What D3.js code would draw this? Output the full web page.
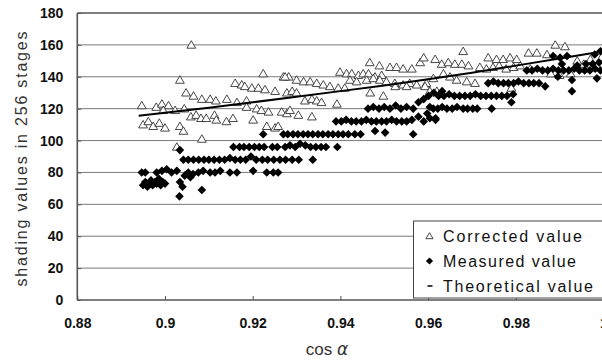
<!DOCTYPE html>
<html><head><meta charset="utf-8">
<script src="https://cdn.jsdelivr.net/npm/d3@7"></script>
<style>body{margin:0;background:#fff}svg{display:block}</style>
</head><body><svg id="c" width="602" height="361"></svg>
<script>
const xTicks = [0.88, 0.9, 0.92, 0.94, 0.96, 0.98, 1.0];
const xTickLabels = ["0.88", "0.9", "0.92", "0.94", "0.96", "0.98", "1"];
const yTicks = [0, 20, 40, 60, 80, 100, 120, 140, 160, 180];
const legendLabels = ["Corrected value", "Measured value", "Theoretical value"];

// Corrected value (open triangles): [cos α, shading]
const correctedPoints = [
[0.8947,122],[0.8980,121],[0.8993,123],[0.9008,122],[0.8996,119],[0.9023,119],
[0.8950,110],[0.8962,112],[0.8973,109],[0.8987,111],[0.9000,108],[0.9034,109],[0.9042,106],[0.9084,101],[0.9027,96],
[0.9034,138],[0.9060,160],[0.9224,142],[0.9270,140],[0.9282,140],
[0.9048,130],[0.9065,128],[0.9084,126],[0.9103,126],[0.9116,125],[0.9141,126],[0.9164,124],[0.9186,125],
[0.9044,120],[0.9059,115],[0.9071,116],[0.9082,114],[0.9094,114],[0.9113,116],[0.9117,113],[0.9140,112],[0.9155,114],[0.9201,113],
[0.9232,109],[0.9251,108],[0.9258,109],
[0.9160,136],[0.9175,135],[0.9182,134],[0.9198,133],[0.9213,133],[0.9228,132],[0.9251,131],
[0.9186,121],[0.9209,120],[0.9220,119],[0.9236,118],[0.9266,118],[0.9278,117],
[0.9274,140],[0.9300,138],[0.9316,137],[0.9331,137],[0.9346,136],[0.9361,135],[0.9376,134],[0.9395,133],[0.9410,133],
[0.9399,143],[0.9414,142],[0.9426,142],[0.9441,141],[0.9452,142],[0.9464,142],[0.9479,140],[0.9494,141],
[0.9467,149],[0.9489,147],
[0.9513,146],[0.9528,146],[0.9543,145],[0.9563,145],[0.9582,149],[0.9590,152],[0.9616,151],
[0.9422,138],[0.9437,137],[0.9460,138],[0.9475,139],[0.9490,138],[0.9505,137],[0.9524,136],[0.9543,135],[0.9558,136],[0.9574,135],[0.9596,136],[0.9612,139],
[0.9278,130],[0.9290,131],[0.9300,130],
[0.9319,125],[0.9335,126],[0.9346,125],[0.9357,124],[0.9392,123],
[0.9468,130],[0.9498,128],[0.9525,134],[0.9551,134],[0.9593,134],[0.9604,131],[0.9620,131],
[0.9285,119],[0.9304,116],[0.9335,115],
[0.9631,148],[0.9646,149],[0.9661,148],[0.9677,148],[0.9692,147],[0.9680,156],
[0.9718,146],[0.9733,145],[0.9748,146],[0.9762,147],[0.9778,145],[0.9795,146],[0.9810,147],[0.9833,145],
[0.9737,152],[0.9756,151],[0.9771,151],[0.9787,152],[0.9802,151],[0.9829,155],[0.9848,155],[0.9871,154],[0.9890,160],[0.9912,159],
[0.9635,142],[0.9650,140],[0.9665,138],[0.9688,137],[0.9707,136],
[0.9790,133],[0.9925,142],[0.9880,142],[0.9900,141],
[0.9940,150],[0.9955,148],[0.9970,151],[0.9985,147],[0.9960,145],[0.9995,152]
];

// Measured value (filled diamonds): [cos α, shading]
const measuredPoints = [
[0.8947,80],[0.8955,80],[0.8950,72],[0.8955,74],[0.8960,71],[0.8964,73],[0.8968,75],[0.8972,72],[0.8977,74],[0.8981,73],[0.8986,76],[0.8990,72],[0.8995,74],[0.9000,73],
[0.8981,80],[0.8993,81],[0.9004,82],[0.9015,80],[0.9027,81],
[0.9034,94],[0.9034,74],[0.9040,71],[0.9084,69],[0.9033,65],
[0.9045,78],[0.9058,77],[0.9053,80],[0.9064,79],[0.9076,80],[0.9087,81],[0.9103,80],[0.9114,80],[0.9126,81],[0.9148,80],[0.9164,80],[0.9201,81],[0.9232,80],[0.9247,80],[0.9258,80],
[0.9042,88],[0.9053,88],[0.9065,88],[0.9077,88],[0.9089,88],[0.9100,88],[0.9112,88],[0.9124,88],[0.9136,88],[0.9148,89],[0.9160,88],[0.9172,88],[0.9184,88],[0.9196,90],[0.9208,88],[0.9222,88],[0.9234,88],[0.9248,88],[0.9262,88],[0.9275,88],[0.9290,88],[0.9305,88],[0.9337,88],
[0.9156,96],[0.9170,96],[0.9180,96],[0.9192,96],[0.9204,96],[0.9215,96],[0.9226,96],[0.9245,96],[0.9256,96],[0.9274,96],[0.9285,97],[0.9297,96],[0.9308,98],[0.9320,97],[0.9332,96],[0.9344,96],[0.9356,96],[0.9367,96],[0.9393,96],
[0.9224,104],[0.9270,104],[0.9280,104],[0.9292,104],[0.9303,104],[0.9315,104],[0.9326,104],[0.9337,104],[0.9349,104],[0.9360,104],[0.9372,104],[0.9383,104],[0.9395,104],[0.9406,104],[0.9418,104],[0.9433,104],[0.9446,104],[0.9479,106],[0.9502,105],[0.9566,104],
[0.9390,112],[0.9402,112],[0.9413,113],[0.9425,112],[0.9436,112],[0.9448,112],[0.9459,113],[0.9471,112],[0.9482,112],[0.9494,112],[0.9505,112],[0.9517,113],[0.9528,112],[0.9540,112],[0.9551,112],[0.9563,113],[0.9578,115],[0.9590,112],[0.9604,114],[0.9617,113],
[0.9463,120],[0.9475,121],[0.9488,120],[0.9500,121],[0.9513,120],[0.9526,122],[0.9538,120],[0.9551,121],[0.9566,120],[0.9578,124],[0.9590,126],[0.9601,128],[0.9613,130],[0.9624,128],[0.9632,131],
[0.9604,121],[0.9612,120],[0.9622,120],[0.9632,121],[0.9643,120],[0.9655,120],[0.9666,121],[0.9680,120],[0.9690,120],[0.9702,120],[0.9712,120],[0.9745,120],[0.9790,124],[0.9598,117],[0.9617,114],
[0.9636,128],[0.9648,129],[0.9660,128],[0.9672,128],[0.9684,128],[0.9696,128],[0.9708,129],[0.9720,128],[0.9732,128],[0.9744,128],[0.9756,128],[0.9768,128],[0.9780,128],[0.9794,129],
[0.9737,136],[0.9749,137],[0.9760,136],[0.9772,136],[0.9783,136],[0.9795,136],[0.9806,137],[0.9818,136],[0.9830,136],[0.9841,136],[0.9853,136],[0.9867,134],
[0.9825,144],[0.9837,144],[0.9849,145],[0.9861,144],[0.9873,144],[0.9885,145],[0.9897,144],[0.9909,144],[0.9921,144],[0.9933,145],[0.9945,144],[0.9957,144],[0.9969,144],[0.9981,145],[0.9993,144],
[0.9905,148],[0.9940,147],[0.9960,148],[0.9975,148],[0.9990,149],
[0.9885,153],[0.9901,152],[0.9917,153],[0.9980,154],[0.9993,156],
[0.9896,140],[0.9928,138],[0.9928,131],[0.9985,139]
];

// Theoretical value (line)
const theoreticalPoints = [
[0.894,115.5],[0.900,117.5],[0.910,120.5],[0.920,124],[0.930,127.5],[0.940,131],
[0.950,134.5],[0.960,138.5],[0.970,142.5],[0.980,147],[0.990,151.5],[1.000,156]
];

const svg = d3.select("#c");
const x = d3.scaleLinear().domain([0.88, 1.0]).range([77.3, 603.5]);
const y = d3.scaleLinear().domain([0, 180]).range([300, 13]);

// gridlines
svg.append("g").selectAll("line").data(yTicks.filter(v => v > 0 && v < 180)).join("line")
  .attr("x1", x(0.88)).attr("x2", 602).attr("y1", d => y(d)).attr("y2", d => y(d))
  .attr("stroke", "#7a7a7a").attr("stroke-width", 1);
svg.append("line").attr("x1", x(0.88)).attr("x2", 602).attr("y1", y(180)).attr("y2", y(180))
  .attr("stroke", "#555").attr("stroke-width", 1.6);

// axes
const yAxis = d3.axisLeft(y).tickValues(yTicks).tickSize(-4).tickPadding(14).tickFormat(d3.format("d"));
const gy = svg.append("g").attr("transform", `translate(${x(0.88)},0)`).call(yAxis);
const xAxis = d3.axisBottom(x).tickValues(xTicks).tickSize(-4).tickPadding(18)
  .tickFormat((d, i) => xTickLabels[i]);
const gx = svg.append("g").attr("transform", `translate(0,${y(0)})`).call(xAxis);
[gx, gy].forEach(g => {
  g.select(".domain").attr("stroke", "#555").attr("stroke-width", 1.6);
  g.selectAll(".tick line").attr("stroke", "#555");
  g.selectAll(".tick text").attr("font-family", "Liberation Sans, Arial, sans-serif")
    .attr("font-size", 14).attr("font-weight", "bold").attr("fill", "#111");
});
gx.select(".domain").attr("d", `M${x(0.88)},0H602`);
gy.select(".domain").attr("d", `M0,${y(0)}V${y(180)}`);

// markers
const triPath = "M0,-4.2L4.4,3.3L-4.4,3.3Z";
const diaPath = "M0,-4.3L4.3,0L0,4.3L-4.3,0Z";
svg.append("g").selectAll("path").data(correctedPoints).join("path")
  .attr("d", triPath).attr("transform", d => `translate(${x(d[0])},${y(d[1])})`)
  .attr("fill", "#fff").attr("stroke", "#333").attr("stroke-width", 0.9);
svg.append("g").selectAll("path").data(measuredPoints).join("path")
  .attr("d", diaPath).attr("transform", d => `translate(${x(d[0])},${y(d[1])})`)
  .attr("fill", "#000");
svg.append("path").datum(theoreticalPoints)
  .attr("d", d3.line().x(d => x(d[0])).y(d => y(d[1])))
  .attr("fill", "none").attr("stroke", "#000").attr("stroke-width", 2);

// axis titles
svg.append("text").attr("transform", "translate(21,159) rotate(-90)")
  .attr("text-anchor", "middle").attr("dominant-baseline", "central")
  .attr("font-family", "Liberation Sans, Arial, sans-serif").attr("font-size", 16)
  .attr("fill", "#333").attr("textLength", 255).attr("lengthAdjust", "spacing")
  .text("shading values in 256 stages");
const xt = svg.append("text").attr("x", 327).attr("y", 355).attr("text-anchor", "middle")
  .attr("font-family", "Liberation Sans, Arial, sans-serif").attr("font-size", 17).attr("fill", "#333");
xt.append("tspan").text("cos ");
xt.append("tspan").attr("font-style", "italic").attr("font-family", "DejaVu Sans, sans-serif").text("α");

// legend
const lg = svg.append("g");
lg.append("rect").attr("x", 413.5).attr("y", 221).attr("width", 200).attr("height", 77)
  .attr("fill", "#fff").attr("stroke", "#444").attr("stroke-width", 1);
const lens = [139, 133, 150];
legendLabels.forEach((t, i) => {
  const cy = 236 + i * 25;
  if (i === 0) lg.append("path").attr("d", "M0,-3.3L3.6,2.7L-3.6,2.7Z").attr("transform", `translate(429.5,${cy})`)
    .attr("fill", "#fff").attr("stroke", "#333").attr("stroke-width", 0.9);
  if (i === 1) lg.append("path").attr("d", "M0,-3.6L3.6,0L0,3.6L-3.6,0Z").attr("transform", `translate(429.5,${cy})`).attr("fill", "#000");
  if (i === 2) lg.append("line").attr("x1", 427.5).attr("x2", 432.5).attr("y1", cy).attr("y2", cy).attr("stroke", "#000").attr("stroke-width", 1.5);
  lg.append("text").attr("x", 443).attr("y", cy).attr("dominant-baseline", "central")
    .attr("font-family", "Liberation Sans, Arial, sans-serif").attr("font-size", 16).attr("fill", "#111")
    .attr("textLength", lens[i]).attr("lengthAdjust", "spacing").text(t);
});
</script></body></html>
